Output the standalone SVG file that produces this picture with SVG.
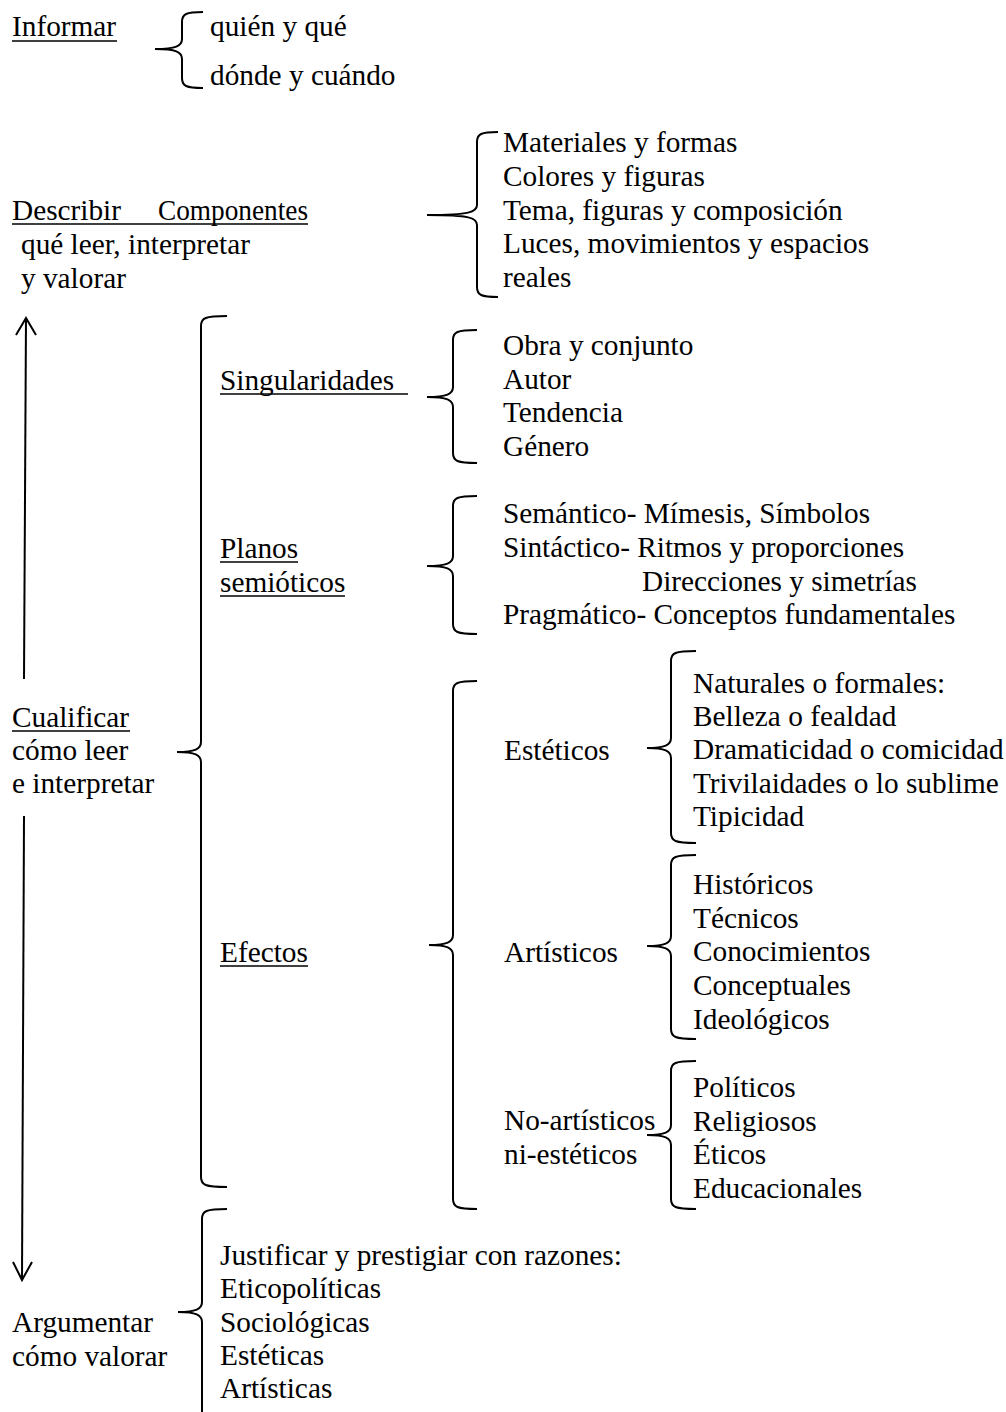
<svg xmlns="http://www.w3.org/2000/svg" width="1006" height="1412" viewBox="0 0 1006 1412">
<style>
text{font-family:"Liberation Serif","Times New Roman",serif;font-size:29.3px;fill:#000}
.b{fill:none;stroke:#000;stroke-width:2}
.u{stroke:#000;stroke-width:1.6}
.a{fill:none;stroke:#000;stroke-width:2}
</style>
<rect width="1006" height="1412" fill="#fff"/>
<g id="connectors">
<path class="b" d="M203,12 C186,12 182,14 182,22 L182,39 C182,46 176,49 155,49 C176,49 182,52 182,59 L182,78 C182,86 186,88 203,88"/>
<path class="b" d="M498,132 C481,132 477,134 477,142 L477,205 C477,212 470,215 427,215 C470,215 477,218 477,225 L477,287 C477,295 481,297 498,297"/>
<path class="b" d="M227,316 C205,316 201,318 201,326 L201,742 C201,749 195,752 177,752 C195,752 201,755 201,762 L201,1177 C201,1185 205,1187 227,1187"/>
<path class="b" d="M477,330 C457,330 453,332 453,340 L453,387 C453,394 447,397 427,397 C447,397 453,400 453,407 L453,453 C453,461 457,463 477,463"/>
<path class="b" d="M477,496 C457,496 453,498 453,506 L453,556 C453,563 447,566 427,566 C447,566 453,569 453,576 L453,624 C453,632 457,634 477,634"/>
<path class="b" d="M477,681 C457,681 453,683 453,691 L453,935 C453,942 447,945 429,945 C447,945 453,948 453,955 L453,1199 C453,1207 457,1209 477,1209"/>
<path class="b" d="M696,651 C675,651 671,653 671,661 L671,738 C671,745 665,748 647,748 C665,748 671,751 671,758 L671,833 C671,841 675,843 696,843"/>
<path class="b" d="M696,855 C675,855 671,857 671,865 L671,936 C671,943 665,946 647,946 C665,946 671,949 671,956 L671,1029 C671,1037 675,1039 696,1039"/>
<path class="b" d="M696,1061 C675,1061 671,1063 671,1071 L671,1125 C671,1132 665,1135 647,1135 C665,1135 671,1138 671,1145 L671,1199 C671,1207 675,1209 696,1209"/>
<path class="b" d="M227,1209 C206,1209 202,1211 202,1219 L202,1302 C202,1309 196,1312 178,1312 C196,1312 202,1315 202,1322 L202,1430"/>
<line class="a" x1="24" y1="679" x2="26" y2="318"/>
<polyline class="a" points="16,335 26,318 36,335"/>
<line class="a" x1="24" y1="816" x2="22" y2="1280"/>
<polyline class="a" points="13,1262 22,1280 32,1262"/>
</g>
<g id="informar">
<text x="12" y="36">Informar</text><line class="u" x1="12" y1="41" x2="117" y2="41"/>
<text x="210" y="36">quién y qué</text>
<text x="210" y="85">dónde y cuándo</text>
</g>
<g id="describir">
<text x="12" y="220">Describir</text><text x="158" y="220" textLength="150" lengthAdjust="spacingAndGlyphs">Componentes</text>
<line class="u" x1="12" y1="224" x2="308" y2="224"/>
<text x="21" y="254">qué leer, interpretar</text>
<text x="21" y="288">y valorar</text>
</g>
<g id="componentes">
<text x="503" y="152">Materiales y formas</text>
<text x="503" y="186">Colores y figuras</text>
<text x="503" y="220">Tema, figuras y composición</text>
<text x="503" y="253">Luces, movimientos y espacios</text>
<text x="503" y="287">reales</text>
</g>
<g id="singularidades">
<text x="220" y="390">Singularidades</text><line class="u" x1="220" y1="394" x2="408" y2="394"/>
<text x="503" y="355">Obra y conjunto</text>
<text x="503" y="389">Autor</text>
<text x="503" y="422">Tendencia</text>
<text x="503" y="456">Género</text>
</g>
<g id="planos">
<text x="220" y="558">Planos</text><line class="u" x1="220" y1="562" x2="298" y2="562"/>
<text x="220" y="592">semióticos</text><line class="u" x1="220" y1="596" x2="345" y2="596"/>
<text x="503" y="523">Semántico- Mímesis, Símbolos</text>
<text x="503" y="557">Sintáctico- Ritmos y proporciones</text>
<text x="642" y="591">Direcciones y simetrías</text>
<text x="503" y="624">Pragmático- Conceptos fundamentales</text>
</g>
<g id="cualificar">
<text x="12" y="727">Cualificar</text><line class="u" x1="12" y1="731" x2="130" y2="731"/>
<text x="12" y="760">cómo leer</text>
<text x="12" y="793">e interpretar</text>
</g>
<g id="esteticos">
<text x="504" y="760">Estéticos</text>
<text x="693" y="693">Naturales o formales:</text>
<text x="693" y="726">Belleza o fealdad</text>
<text x="693" y="759">Dramaticidad o comicidad</text>
<text x="693" y="793">Trivilaidades o lo sublime</text>
<text x="693" y="826">Tipicidad</text>
</g>
<g id="efectos">
<text x="220" y="962">Efectos</text><line class="u" x1="220" y1="966" x2="308" y2="966"/>
</g>
<g id="artisticos">
<text x="504" y="962">Artísticos</text>
<text x="693" y="894">Históricos</text>
<text x="693" y="928">Técnicos</text>
<text x="693" y="961">Conocimientos</text>
<text x="693" y="995">Conceptuales</text>
<text x="693" y="1029">Ideológicos</text>
</g>
<g id="noartisticos">
<text x="504" y="1130">No-artísticos</text>
<text x="504" y="1164">ni-estéticos</text>
<text x="693" y="1097">Políticos</text>
<text x="693" y="1131">Religiosos</text>
<text x="693" y="1164">Éticos</text>
<text x="693" y="1198">Educacionales</text>
</g>
<g id="argumentar">
<text x="12" y="1332">Argumentar</text>
<text x="12" y="1366">cómo valorar</text>
<text x="220" y="1265">Justificar y prestigiar con razones:</text>
<text x="220" y="1298">Eticopolíticas</text>
<text x="220" y="1332">Sociológicas</text>
<text x="220" y="1365">Estéticas</text>
<text x="220" y="1398">Artísticas</text>
</g>
</svg>
